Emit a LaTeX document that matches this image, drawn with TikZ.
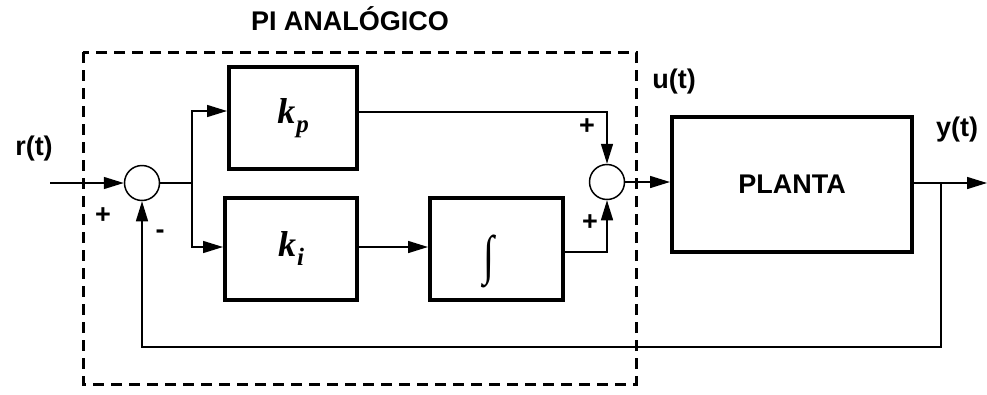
\documentclass[tikz,border=0pt]{standalone}
\usepackage{fontspec}
\setmainfont{Liberation Sans}
\newfontfamily\gainfont{Liberation Serif}
\usetikzlibrary{arrows.meta}
\newcommand{\gainsym}[1]{{\gainfont\bfseries\itshape k\kern1pt\raisebox{-0.25em}{\fontsize{25}{27}\selectfont #1}}}
\tikzset{
	blk/.style={draw, line width=4pt, minimum width=130pt, minimum height=102pt, inner sep=0pt},
	sumc/.style={draw, circle, line width=1.5pt, minimum size=35pt, inner sep=0pt},
	conn/.style={line width=1.5pt},
	arr/.style={conn, -{Triangle[length=20pt,width=12pt]}},
	lbl/.style={font=\fontsize{27}{29}\selectfont\bfseries, inner sep=0pt},
	gain/.style={font=\fontsize{36}{38}\selectfont},
}
\begin{document}
\begin{tikzpicture}[x=1pt,y=-1pt]
	\useasboundingbox (0,0) rectangle (987,394);
	% controller boundary
	\draw[line width=3pt, dash pattern=on 11pt off 7pt] (83,52) rectangle (636,384);
	\node[lbl] (title) at (350,19) {PI ANALÓGICO};
	% blocks
	\node[sumc] (s1) at (142,183) {};
	\node[blk, gain, minimum width=128pt] (kp) at (293,118) {\gainsym{p}};
	\node[blk, gain, minimum width=132pt] (ki) at (291,249) {\gainsym{i}};
	\node[blk, minimum width=133pt] (int) at (496.5,249) {};
	\node[font=\fontsize{40}{42}\selectfont\gainfont, inner sep=0pt] (intsym) at (489,261) {\scalebox{1}[1.35]{∫}};
	\node[sumc] (s2) at (607,182) {};
	\node[blk, minimum width=240pt, minimum height=135pt, lbl] (planta) at (792,184.5) {PLANTA};
	\coordinate (rin) at (50,183);
	\coordinate (b1) at (192,183);
	\coordinate (fb) at (941,183);
	\coordinate (yout) at (987,183);
	% connectors
	\draw[arr] (rin) -- (s1.west);
	\draw[conn] (s1.east) -- (b1);
	\draw[arr] (b1) |- ([yshift=7pt]kp.west);
	\draw[arr] (b1) |- ([yshift=2pt]ki.west);
	\draw[arr] ([yshift=2pt]ki.east) -- ([yshift=2pt]int.west);
	\draw[arr] ([yshift=6pt]kp.east) -| (s2.north);
	\draw[arr] ([yshift=-3pt]int.east) -| (s2.south);
	\draw[arr] (s2.east) -- (s2.east -| planta.west);
	\draw[arr] (planta.east |- fb) -- (yout);
	\draw[arr] (fb) -- ++(0,164) -| (s1.south);
	% labels
	\node[lbl] (rl) at (34,149) {r(t)};
	\node[lbl] (ul) at (674,82) {u(t)};
	\node[lbl] (yl) at (957,130) {y(t)};
	\node[lbl] (p1) at (103,216) {+};
	\node[lbl] (m1) at (160,234) {-};
	\node[lbl] (p2) at (587,127) {+};
	\node[lbl] (p3) at (590,223) {+};
\end{tikzpicture}
\end{document}
